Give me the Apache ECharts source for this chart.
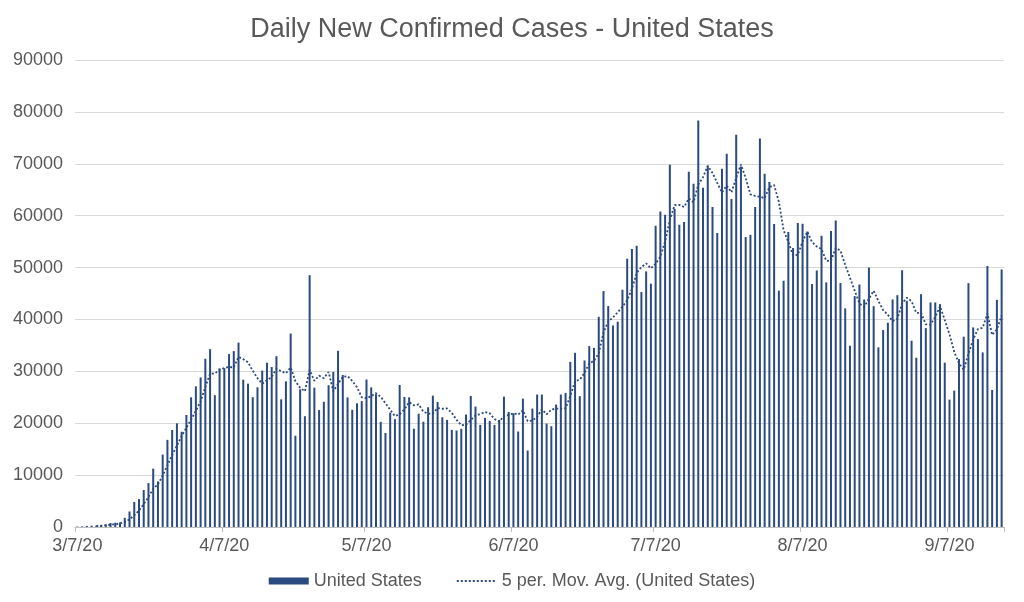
<!DOCTYPE html>
<html>
<head>
<meta charset="utf-8">
<script src="https://cdn.jsdelivr.net/npm/echarts@6/dist/echarts.min.js"></script>
<style>
html,body{margin:0;padding:0;background:#ffffff;}
#chart{width:1024px;height:602px;}
</style>
</head>
<body>
<div id="chart"></div>
<script>
// Daily new confirmed cases, one value per day, 3/7/20 .. 9/18/20
const marValues = [95, 121, 200, 271, 287, 351, 511, 777, 823, 887, 1766, 2988, 4835, 5374, 7123, 8459, 11236, 8789, 13963, 16797, 18695, 19979, 18360, 21595, 24998];
const aprValues = [27103, 28819, 32425, 34272, 25398, 30561, 30613, 33323, 33901, 35527, 28391, 27620, 25023, 26922, 30148, 31667, 30833, 32922, 24601, 28065, 37289, 17588, 26543, 21352, 48529, 26857, 22541, 24132, 27326, 29917];
const mayValues = [33955, 29288, 24972, 22593, 23841, 24252, 28420, 26906, 25612, 20258, 18117, 22048, 20782, 27368, 25050, 24994, 18937, 21841, 20289, 23080, 25320, 24100, 21150, 20640, 18720, 18590, 18910, 21670, 25260, 23210, 19680];
const junValues = [21030, 20450, 19680, 20640, 25130, 22180, 21920, 18400, 24740, 14740, 22820, 25530, 25530, 19940, 19420, 23600, 25530, 25850, 31830, 33570, 25210, 32090, 34860, 34530, 40510, 45470, 42570, 38840, 39560, 45730];
const julValues = [51700, 53560, 54210, 45280, 49260, 46890, 58060, 60820, 60180, 69810, 61340, 58250, 58770, 68460, 66150, 78360, 65380, 69620, 61660, 56650, 69040, 71930, 63200, 75600, 69490, 55880, 56330, 61660, 74890, 68080, 66500];
const augValues = [58380, 45540, 47460, 56840, 53760, 58570, 58440, 56970, 46820, 49450, 56130, 47140, 57030, 59090, 47010, 42130, 34940, 44490, 46730, 43850, 50000, 42560, 34620, 37950, 39360, 43850, 44680, 49490, 43590, 35900, 32630];
const sepValues = [44870, 38330, 43270, 43270, 42950, 31670, 24550, 26280, 32370, 36670, 46990, 38460, 36220, 33650, 50320, 26410, 43780, 49620];

const tickLabels = ['3/7/20', '4/7/20', '5/7/20', '6/7/20', '7/7/20', '8/7/20', '9/7/20'];
const yTicks = [0, 10000, 20000, 30000, 40000, 50000, 60000, 70000, 80000, 90000];

const seriesNames = ['United States', '5 per. Mov. Avg. (United States)'];
const titleText = 'Daily New Confirmed Cases - United States';

const values = [].concat(marValues, aprValues, mayValues, junValues, julValues, augValues, sepValues);

// consecutive day categories starting 3/7/20
const categories = [];
(function () {
  const d = new Date(2020, 2, 7);
  for (let i = 0; i < values.length; i++) {
    categories.push((d.getMonth() + 1) + '/' + d.getDate() + '/' + String(d.getFullYear()).slice(2));
    d.setDate(d.getDate() + 1);
  }
})();

// Excel-style 5-period trailing moving average trendline of the series
const movAvg = values.map(function (v, i) {
  if (i < 4) return null;
  let s = 0;
  for (let k = i - 4; k <= i; k++) s += values[k];
  return s / 5;
});

const navy = '#2a4a80';
const grey = '#595959';
const font = 'Liberation Sans, Arial, Helvetica, sans-serif';
const isTick = function (idx, val) { return tickLabels.indexOf(val) >= 0; };

const chart = echarts.init(document.getElementById('chart'), null, {renderer: 'canvas'});
chart.setOption({
  animation: false,
  backgroundColor: '#ffffff',
  textStyle: {fontFamily: font},
  title: {
    text: titleText,
    left: 'center',
    top: 11,
    textStyle: {fontSize: 27, fontWeight: 'normal', color: grey, fontFamily: font}
  },
  grid: {left: 75, right: 20, top: 60, bottom: 75, containLabel: false},
  legend: {
    top: 567,
    left: 'center',
    itemGap: 34,
    itemWidth: 40,
    itemHeight: 7,
    textStyle: {fontSize: 18, color: grey, fontFamily: font},
    data: [
      {name: seriesNames[0], icon: 'rect'},
      {name: seriesNames[1], itemStyle: {opacity: 0}}
    ]
  },
  xAxis: {
    type: 'category',
    data: categories,
    boundaryGap: true,
    axisLine: {lineStyle: {color: '#bfbfbf', width: 1}},
    axisTick: {show: true, interval: isTick, length: 5, lineStyle: {color: '#bfbfbf'}},
    axisLabel: {interval: isTick, color: grey, fontSize: 18, margin: 10, fontFamily: font},
    splitLine: {show: false}
  },
  yAxis: {
    type: 'value',
    min: yTicks[0],
    max: yTicks[yTicks.length - 1],
    interval: yTicks[1] - yTicks[0],
    axisLine: {show: false},
    axisTick: {show: false},
    axisLabel: {color: grey, fontSize: 18, margin: 12, fontFamily: font, formatter: function (v) { return String(v); }},
    splitLine: {lineStyle: {color: '#d9d9d9', width: 1}}
  },
  series: [
    {
      name: seriesNames[0],
      type: 'bar',
      data: values,
      barWidth: 2,
      itemStyle: {color: navy}
    },
    {
      name: seriesNames[1],
      type: 'line',
      data: movAvg,
      symbol: 'none',
      connectNulls: false,
      itemStyle: {color: navy},
      lineStyle: {color: navy, width: 1.8, type: [2, 2]}
    }
  ]
});
</script>
</body>
</html>
